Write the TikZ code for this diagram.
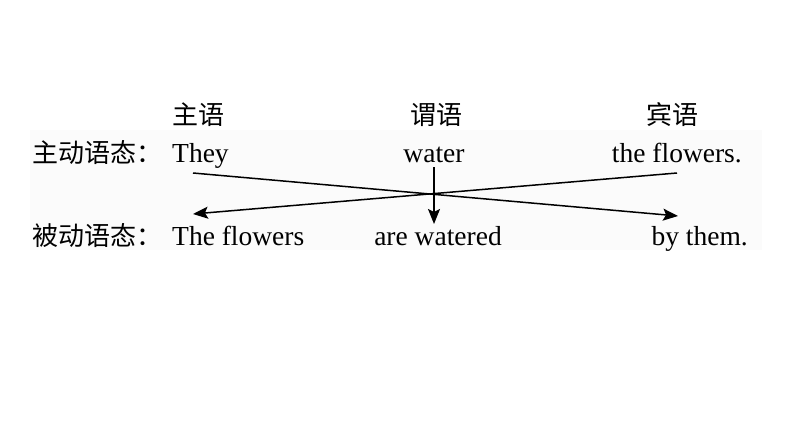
\documentclass[tikz,border=0pt]{standalone}
\usepackage{fontspec}
\setmainfont{Liberation Serif}
\newfontfamily\cjk{Noto Sans CJK SC}
\usetikzlibrary{arrows.meta}
\begin{document}
\begin{tikzpicture}[x=1pt,y=-1pt,
  lat/.style={inner sep=0pt,font=\fontsize{27.5}{30}\selectfont},
  zh/.style={inner sep=0pt,font=\cjk\fontsize{26}{28}\selectfont},
  conn/.style={line width=1.5pt,-{Stealth[length=15pt,width=12pt,inset=3pt]}}]
\useasboundingbox (0,0) rectangle (794,447);
\fill[black!1.5] (30,130) rectangle (762,250);
% headers
\node[zh] (hs) at (198,115) {主语};
\node[zh] (hp) at (436,115) {谓语};
\node[zh] (ho) at (672,115) {宾语};
% row 1
\node[zh,anchor=base west] (l1) at (32,162) {主动语态：};
\node[lat,anchor=base west] (they) at (172,162) {They};
\node[lat,anchor=base] (water) at (434,162) {water};
\node[lat,anchor=base east] (flw) at (742,162) {the flowers.};
% row 2
\node[zh,anchor=base west] (l2) at (32,245) {被动语态：};
\node[lat,anchor=base west] (Tflw) at (172,245) {The flowers};
\node[lat,anchor=base] (arew) at (438,245) {are watered};
\node[lat,anchor=base east] (bythem) at (748,245) {by them.};
% connector ends
\coordinate (a1) at (193,173);
\coordinate (a2) at (678,216);
\coordinate (b1) at (677,173);
\coordinate (b2) at (193,214);
\coordinate (c1) at (434,167);
\coordinate (c2) at (434,224);
\draw[conn] (a1) -- (a2);
\draw[conn] (b1) -- (b2);
\draw[conn] (c1) -- (c2);
\end{tikzpicture}
\end{document}
